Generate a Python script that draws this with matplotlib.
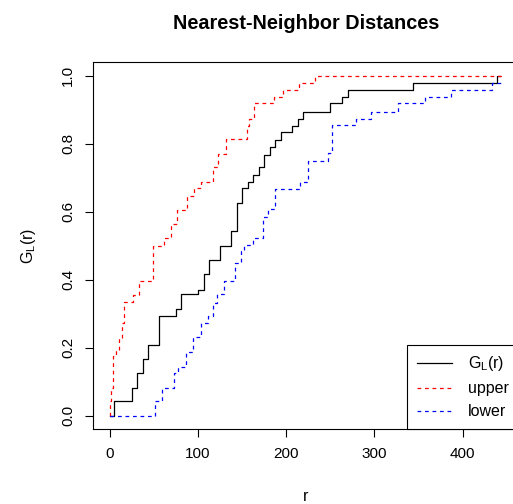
import numpy as np
import matplotlib
matplotlib.use('Agg')
import matplotlib.pyplot as plt

plt.rcParams['font.family'] = ['Liberation Sans', 'DejaVu Sans']

# observed G_L(r) step function (jump positions and heights)
r_obs = [0, 5.2, 24.9, 30.4, 37.2, 43.4, 55.9, 75.2, 81.1, 99.8, 106.7, 112.9,
         125.3, 137.2, 144.1, 150.2, 157.1, 162.8, 169.3, 175.3, 181.7, 187.8,
         194.2, 206.7, 213.2, 219.2, 250.3, 263.7, 270.2, 344.4, 439.1, 442.5]
g_obs = [0, 0.043, 0.083, 0.125, 0.167, 0.208, 0.292, 0.314, 0.357, 0.371, 0.418, 0.458,
         0.5, 0.542, 0.626, 0.669, 0.688, 0.709, 0.731, 0.768, 0.79, 0.81,
         0.833, 0.853, 0.873, 0.894, 0.918, 0.937, 0.958, 0.979, 1.0, 1.0]

# upper envelope
r_up = [0, 0.3, 1.1, 4.1, 6.6, 10.9, 14.3, 16.6, 26.8, 32.7, 49.4, 61.0, 69.2,
        76.0, 88.0, 95.6, 103.2, 116.6, 122.4, 131.9, 155.3, 158.3, 163.6,
        186.6, 196.1, 215.0, 232.8, 446.0]
g_up = [0, 0.043, 0.083, 0.176, 0.19, 0.23, 0.272, 0.333, 0.355, 0.396, 0.5, 0.522, 0.564,
        0.605, 0.646, 0.669, 0.687, 0.731, 0.769, 0.813, 0.853, 0.873, 0.918,
        0.937, 0.958, 0.979, 1.0, 1.0]

# lower envelope
r_lo = [0, 51.9, 59.0, 72.9, 77.4, 86.8, 94.8, 103.5, 111.5, 117.5, 121.3, 129.6,
        142.6, 148.9, 152.3, 163.0, 173.8, 180.0, 187.4, 216.3, 224.3, 247.0,
        251.7, 278.9, 296.3, 326.5, 357.1, 387.0, 433.1, 445.6]
g_lo = [0, 0.043, 0.083, 0.125, 0.144, 0.188, 0.232, 0.272, 0.293, 0.33, 0.358, 0.396,
        0.45, 0.485, 0.502, 0.522, 0.585, 0.607, 0.667, 0.688, 0.75, 0.772,
        0.855, 0.873, 0.893, 0.918, 0.936, 0.958, 0.979, 0.979]

fig = plt.figure(figsize=(5.13, 5.04), dpi=100)
ax = fig.add_axes([93.3/513, (504-429)/504, 424.8/513, 367/504])

ax.step(r_obs, g_obs, where='post', color='black', lw=0.9, label=r'$\mathregular{G_L(r)}$')
ax.step(r_up, g_up, where='post', color='red', lw=0.9, dashes=(3, 3), label='upper')
ax.step(r_lo, g_lo, where='post', color='blue', lw=0.9, dashes=(3, 3), label='lower')

ax.set_xlim(-18.6, 463)
ax.set_ylim(-0.039, 1.04)
ax.set_xticks([0, 100, 200, 300, 400])
ax.set_yticks([0, 0.2, 0.4, 0.6, 0.8, 1.0])
ax.set_yticklabels(['0.0', '0.2', '0.4', '0.6', '0.8', '1.0'], rotation=90, va='center')
ax.tick_params(labelsize=11, length=6, width=0.8, pad=7)
for s in ax.spines.values():
    s.set_linewidth(0.8)

ax.set_title('Nearest-Neighbor Distances', fontsize=14.3, fontweight='bold', pad=24)
ax.set_xlabel('r', fontsize=11.5, labelpad=20)
ax.set_ylabel(r'$\mathregular{G_L(r)}$', fontsize=11.5, labelpad=17)

leg = ax.legend(loc='lower right', borderaxespad=0, fancybox=False, edgecolor='black',
                fontsize=11.5, handlelength=2.2, framealpha=1, labelspacing=0.5,
                borderpad=0.6, handletextpad=1.0)
leg.get_frame().set_linewidth(0.8)

fig.savefig('out.png', dpi=100)
